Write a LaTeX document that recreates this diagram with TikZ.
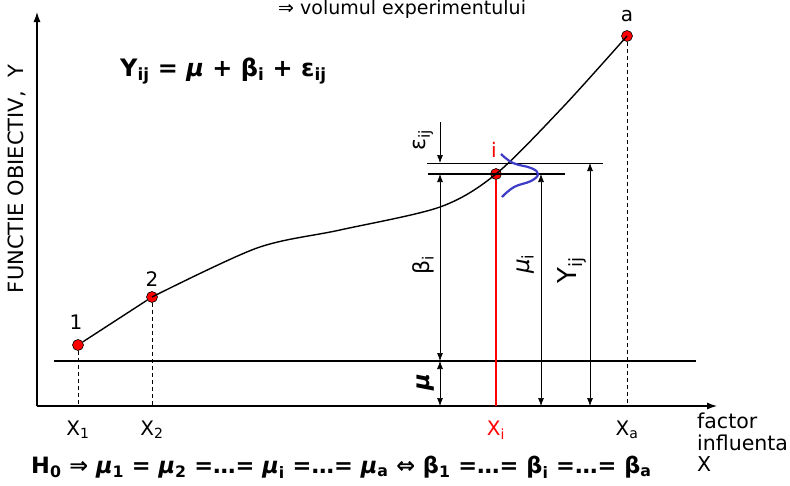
\documentclass[tikz,border=0pt]{standalone}
\usepackage{fontspec}
\setmainfont{DejaVu Sans}
\usetikzlibrary{arrows.meta}
\definecolor{gaussblue}{RGB}{60,60,200}

\begin{document}
\begin{tikzpicture}[x=1pt,y=-1pt,
    dot/.style={circle,draw=black,line width=0.6,fill=red,inner sep=0,minimum size=11},
    lbl/.style={font=\fontsize{20}{24}\selectfont,inner sep=1},
    dimarr/.style={line width=0.7,{Latex[length=8,width=6]}-{Latex[length=8,width=6]}},
    guide/.style={dashed,line width=0.8,dash pattern=on 4pt off 3pt}]
\useasboundingbox (0,0) rectangle (790,485);
\coordinate (o) at (37,406);
\draw[line width=1.1,-{Latex[length=10,width=7]}] (o)--(717,406) coordinate (xend) ; %x-Achse
\draw[line width=1.1,-{Latex[length=10,width=7]}] (o)--(37,12) coordinate (yend) ; %y-Achse
\node[lbl,rotate=90,font=\fontsize{21}{24}\selectfont] (ylab) at (17,179) {FUNCTIE OBIECTIV,\ \ Y};
\node[lbl,anchor=north west,align=left,font=\fontsize{20.5}{21.5}\selectfont] (xlab) at (696,412) {factor\\influenta\\X};
% puncte experimentale
\node[dot] (p1) at (78,345) {};
\node[dot] (p2) at (152,297) {};
\node[dot] (pi) at (496,174) {};
\node[dot] (pa) at (627,36) {};
\node[lbl] at (76,322) {1};
\node[lbl] at (152,279) {2};
\node[lbl,text=red] at (494,150) {i};
\node[lbl] at (627,16) {a};
\draw[line width=1.4] (p1)--(p2);
\draw[line width=1.4] plot[smooth,tension=0.5] coordinates {(p2) (257,248) (340,230) (440,207) (pi) (563,107) (pa)};
% niveluri
\coordinate (base) at (54,361);
\coordinate (lvl) at (428,174);
\coordinate (top) at (427,163);
\draw[line width=1.8] (base)--(696,361) coordinate (baseR);
\draw[line width=1.8] (lvl)--(565,174) coordinate (lvlR);
\draw[line width=0.6] (top)--(603,163) coordinate (topR);
\draw[guide] (p1)--(p1 |- o);
\draw[guide] (p2)--(p2 |- o);
\draw[guide] (pa)--(pa |- o);
\draw[red,line width=2.4] (pi)--(pi |- o);
\draw[gaussblue,line width=2.2] plot[smooth,tension=0.7] coordinates {(501,154) (513,163) (531,168) (538,174) (531,181) (514,187) (502,197)};
% sageti
\coordinate (bx) at (440,0);
\coordinate (mx) at (541,0);
\coordinate (yx) at (590,0);
\draw[dimarr] (bx |- base)--(bx |- lvl);
\draw[dimarr] (bx |- o)--(bx |- base);
\draw[line width=0.7,-{Latex[length=8,width=6]}] (440,122) coordinate (eps)--(bx |- top);
\draw[dimarr] (mx |- o)--(mx |- lvl);
\draw[dimarr] (yx |- o)--(yx |- top);
\node[lbl,rotate=90,font=\fontsize{22}{24}\selectfont] (epslab) at (423,140) {ε\textsubscript{ij}};
\node[lbl,rotate=90,font=\fontsize{22}{24}\selectfont] (betalab) at (423,265) {β\textsubscript{i}};
\node[lbl,rotate=90,font=\fontsize{23}{24}\selectfont\bfseries\itshape] (mulab) at (426,382) {μ};
\node[lbl,rotate=90,font=\fontsize{23}{24}\selectfont\itshape] (muilab) at (526,264) {μ\textsubscript{\upshape i}};
\node[lbl,rotate=90,font=\fontsize{26}{28}\selectfont] (yijlab) at (572,270) {Y\textsubscript{ij}};
% axa x
\node[lbl] at (p1 |- 0,430) {X\textsubscript{1}};
\node[lbl] at (p2 |- 0,430) {X\textsubscript{2}};
\node[lbl,text=red] at (pi |- 0,430) {X\textsubscript{i}};
\node[lbl] at (pa |- 0,430) {X\textsubscript{a}};
% texte
\node[lbl,font=\fontsize{24}{26}\selectfont\bfseries,anchor=west] (model) at (119,71) {Y\textsubscript{ij} = \textit{μ} + β\textsubscript{i} + ε\textsubscript{ij}};
\node[lbl,font=\fontsize{19}{22}\selectfont,anchor=base west] (vol) at (277,14) {⇒ volumul experimentului};
\node[lbl,font=\fontsize{22.5}{26}\selectfont\bfseries,anchor=west] (h0) at (30,467) {H\textsubscript{0} ⇒ \textit{μ}\textsubscript{1} = \textit{μ}\textsubscript{2} =…= \textit{μ}\textsubscript{i} =…= \textit{μ}\textsubscript{a} ⇔ β\textsubscript{1} =…= β\textsubscript{i} =…= β\textsubscript{a}};
\end{tikzpicture}
\end{document}
